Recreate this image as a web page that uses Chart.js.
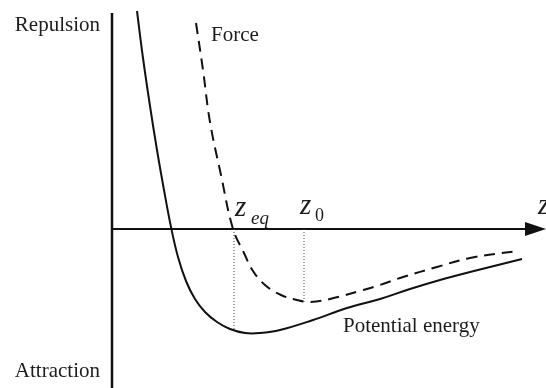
<!DOCTYPE html>
<html>
<head>
<meta charset="utf-8">
<script src="https://cdn.jsdelivr.net/npm/chart.js@4/dist/chart.umd.min.js"></script>
<style>
  html, body { margin: 0; padding: 0; background: #fff; }
  #wrap { width: 546px; height: 388px; position: relative; }
</style>
</head>
<body>
<div id="wrap"><canvas id="c"></canvas></div>
<script>
// Separation distance z (arbitrary units) and the two curves sampled along it.
const potentialZ = [2.5, 3.1, 3.8, 4.5, 5.2, 5.9, 6.6, 7.4, 8.3, 9.3, 10.5, 11.8, 13.3, 14.8, 16.8, 20.1, 23.5, 26.8, 29.8, 32.8, 35.8, 41.0];
const potentialU = [21.8, 17.1, 12.3, 7.9, 3.9, 0.2, -2.8, -5.2, -7.0, -8.3, -9.3, -10.0, -10.4, -10.4, -10.1, -9.1, -7.9, -7.0, -6.0, -5.1, -4.3, -3.0];

const forceZ = [8.4, 9.1, 9.8, 10.9, 12.1, 13.2, 14.1, 15.3, 16.9, 18.5, 19.8, 21.8, 25.1, 26.8, 29.1, 32.5, 35.8, 40.5];
const forceF = [20.6, 15.9, 10.7, 5.4, 0.0, -2.4, -4.2, -5.6, -6.6, -7.1, -7.3, -7.0, -6.1, -5.6, -4.8, -3.8, -2.9, -2.2];

// Equilibrium separation (zero force, energy minimum) and the separation of maximum attraction.
const zEq = 12.2;
const zEqEnergy = -10.1;
const z0 = 19.2;
const z0Force = -7.3;

// Extent of the drawing in data units.
const xMin = -11.2, xMax = 43.4;
const yMin = -15.9, yMax = 22.9;
const yAxisTop = 21.6;
const arrowBase = 41.3;

const pts = (xs, ys) => xs.map((x, i) => ({ x: x, y: ys[i] }));

const ink = '#111';
const serif = '"Liberation Serif", "Times New Roman", serif';
const mathFont = '"Liberation Serif", serif';

// Coordinate axes with an arrow on the z axis, plus all annotation text.
const axesAndLabels = {
  id: 'axesAndLabels',
  beforeDatasetsDraw(chart) {
    const { ctx, scales: { x, y } } = chart;
    const X = v => x.getPixelForValue(v);
    const Y = v => y.getPixelForValue(v);
    ctx.save();
    ctx.strokeStyle = ink;
    ctx.fillStyle = ink;
    // vertical axis
    ctx.lineWidth = 2.5;
    ctx.beginPath();
    ctx.moveTo(X(0), Y(yAxisTop));
    ctx.lineTo(X(0), Y(yMin));
    ctx.stroke();
    // horizontal z axis
    ctx.lineWidth = 2;
    ctx.beginPath();
    ctx.moveTo(X(0), Y(0));
    ctx.lineTo(X(arrowBase) + 2, Y(0));
    ctx.stroke();
    // arrow head
    ctx.beginPath();
    ctx.moveTo(X(xMax), Y(0));
    ctx.lineTo(X(arrowBase), Y(0) - 7);
    ctx.lineTo(X(arrowBase), Y(0) + 7);
    ctx.closePath();
    ctx.fill();
    ctx.restore();
  },
  afterDatasetsDraw(chart) {
    const { ctx, scales: { x, y } } = chart;
    const X = v => x.getPixelForValue(v);
    const Y = v => y.getPixelForValue(v);
    ctx.save();
    ctx.fillStyle = '#1c1c1c';
    ctx.textBaseline = 'alphabetic';

    ctx.font = '21px ' + serif;
    ctx.textAlign = 'right';
    ctx.fillText('Repulsion', X(0) - 12, 31);
    ctx.fillText('Attraction', X(0) - 12, 377);

    ctx.textAlign = 'left';
    ctx.fillText('Force', X(forceZ[0]) + 15, 41);
    ctx.fillText('Potential energy', X(23.1), Y(-10.4) - 1);

    // z_eq
    ctx.font = 'italic 29px ' + mathFont;
    ctx.fillText('z', X(zEq) + 1, Y(0) - 13);
    ctx.font = 'italic 19px ' + mathFont;
    ctx.fillText('eq', X(zEq) + 17, Y(0) - 5);

    // z_0
    ctx.font = 'italic 29px ' + mathFont;
    ctx.fillText('z', X(z0) - 4, Y(0) - 15);
    ctx.font = '18px ' + mathFont;
    ctx.fillText('0', X(z0) + 11, Y(0) - 8);

    // axis name
    ctx.font = 'italic 29px ' + mathFont;
    ctx.fillText('z', X(xMax) - 8, Y(0) - 15);
    ctx.restore();
  }
};

new Chart(document.getElementById('c'), {
  type: 'line',
  data: {
    datasets: [
      {
        label: 'Potential energy',
        data: pts(potentialZ, potentialU),
        borderColor: ink,
        borderWidth: 2,
        pointRadius: 0,
        tension: 0.4,
        fill: false
      },
      {
        label: 'Force',
        data: pts(forceZ, forceF),
        borderColor: ink,
        borderWidth: 2,
        borderDash: [11, 7],
        pointRadius: 0,
        tension: 0.4,
        fill: false
      },
      {
        label: 'z_eq',
        data: [{ x: zEq, y: 0 }, { x: zEq, y: zEqEnergy }],
        borderColor: '#444',
        borderWidth: 1,
        borderDash: [1, 2],
        pointRadius: 0
      },
      {
        label: 'z_0',
        data: [{ x: z0, y: 0 }, { x: z0, y: z0Force }],
        borderColor: '#444',
        borderWidth: 1,
        borderDash: [1, 2],
        pointRadius: 0
      }
    ]
  },
  options: {
    responsive: true,
    maintainAspectRatio: false,
    animation: false,
    layout: { padding: 0 },
    plugins: { legend: { display: false }, tooltip: { enabled: false } },
    scales: {
      x: { type: 'linear', min: xMin, max: xMax, display: false },
      y: { type: 'linear', min: yMin, max: yMax, display: false }
    }
  },
  plugins: [axesAndLabels]
});
</script>
</body>
</html>
